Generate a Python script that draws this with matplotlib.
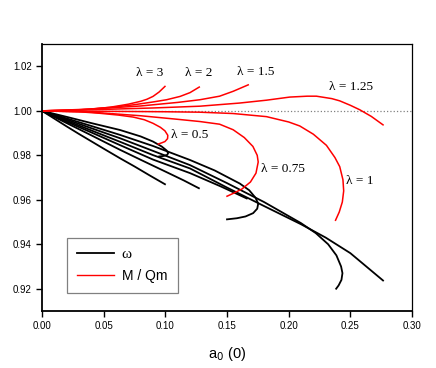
import numpy as np
import matplotlib
matplotlib.use('Agg')
import matplotlib.pyplot as plt
from matplotlib.lines import Line2D

# omega vs a0(0), one branch per lambda
w_a = {
    '3':    [0.0, 0.01, 0.02, 0.03, 0.04, 0.05, 0.0632, 0.075, 0.0875, 0.0997],
    '2':    [0.0, 0.02, 0.04, 0.0632, 0.08, 0.10, 0.115, 0.1272],
    '1.5':  [0.0, 0.02, 0.04, 0.0632, 0.09, 0.12, 0.145, 0.166],
    '1.25': [0.0, 0.02, 0.04, 0.0632, 0.09, 0.12, 0.15, 0.18, 0.21, 0.23, 0.25, 0.2765],
    '1':    [0.0, 0.02, 0.04, 0.0632, 0.09, 0.12, 0.15, 0.18, 0.21, 0.222, 0.232, 0.2387,
             0.2425, 0.2436, 0.2428, 0.2405, 0.2385],
    '0.75': [0.0, 0.02, 0.04, 0.0632, 0.09, 0.12, 0.14, 0.1604, 0.168, 0.173, 0.1753, 0.1745,
             0.1712, 0.165, 0.158, 0.150],
    '0.5':  [0.0, 0.02, 0.04, 0.0632, 0.08, 0.09, 0.097, 0.101, 0.1023, 0.1015, 0.0985, 0.095],
}
w_y = {
    '3':    [1.0, 0.9965, 0.9930, 0.9896, 0.9863, 0.9830, 0.9787, 0.9750, 0.9709, 0.9670],
    '2':    [1.0, 0.9945, 0.9890, 0.9825, 0.9780, 0.9727, 0.9687, 0.9652],
    '1.5':  [1.0, 0.9951, 0.9903, 0.9846, 0.9781, 0.9720, 0.9660, 0.9606],
    '1.25': [1.0, 0.9956, 0.9912, 0.9861, 0.9801, 0.9741, 0.9655, 0.9572, 0.9490, 0.9430,
             0.9360, 0.9237],
    '1':    [1.0, 0.9961, 0.9922, 0.9877, 0.9820, 0.9756, 0.9675, 0.9590, 0.9495, 0.9450,
             0.9400, 0.9350, 0.9300, 0.9270, 0.9240, 0.9215, 0.9200],
    '0.75': [1.0, 0.9966, 0.9932, 0.9892, 0.9842, 0.9779, 0.9732, 0.9673, 0.9643, 0.9610,
             0.9583, 0.9560, 0.9540, 0.9525, 0.9517, 0.9512],
    '0.5':  [1.0, 0.9973, 0.9945, 0.9914, 0.9885, 0.9862, 0.9840, 0.9822, 0.9810, 0.9802,
             0.9797, 0.9795],
}

# M / Qm vs a0(0)
m_a = {
    '3':    [0.0, 0.02, 0.04, 0.055, 0.07, 0.08, 0.085, 0.09, 0.095, 0.0997],
    '2':    [0.0, 0.03, 0.06, 0.074, 0.09, 0.101, 0.112, 0.12, 0.1275],
    '1.5':  [0.0, 0.04, 0.08, 0.11, 0.128, 0.144, 0.155, 0.1672],
    '1.25': [0.0, 0.04, 0.09, 0.128, 0.16, 0.182, 0.2009, 0.215, 0.2225, 0.235, 0.2414,
             0.25, 0.2576, 0.267, 0.2765],
    '1':    [0.0, 0.05, 0.10, 0.128, 0.155, 0.182, 0.20, 0.209, 0.22, 0.2306, 0.2375,
             0.2414, 0.244, 0.2446, 0.2435, 0.241, 0.238],
    '0.75': [0.0, 0.04, 0.08, 0.11, 0.128, 0.144, 0.155, 0.164, 0.171, 0.1745, 0.1753,
             0.1735, 0.169, 0.162, 0.1555, 0.150],
    '0.5':  [0.0, 0.03, 0.047, 0.062, 0.074, 0.083, 0.090, 0.096, 0.0997, 0.102, 0.1018,
             0.0997, 0.097, 0.0943],
}
m_y = {
    '3':    [1.0, 1.0002, 1.0008, 1.0016, 1.0030, 1.0043, 1.0052, 1.0065, 1.0085, 1.0110],
    '2':    [1.0, 1.0004, 1.0018, 1.0027, 1.0040, 1.0050, 1.0065, 1.0082, 1.0107],
    '1.5':  [1.0, 1.0008, 1.0022, 1.0038, 1.0050, 1.0066, 1.0088, 1.0117],
    '1.25': [1.0, 1.0005, 1.0013, 1.0021, 1.0035, 1.0048, 1.0062, 1.0066, 1.0066, 1.0055,
             1.0045, 1.0025, 1.0005, 0.9975, 0.9937],
    '1':    [1.0, 0.9998, 0.9996, 0.9994, 0.9988, 0.9974, 0.9950, 0.9932, 0.9895, 0.9845,
             0.9790, 0.9749, 0.9690, 0.9640, 0.9590, 0.9545, 0.9508],
    '0.75': [1.0, 0.9994, 0.9978, 0.9962, 0.9952, 0.9940, 0.9915, 0.9880, 0.9840, 0.9800,
             0.9770, 0.9720, 0.9680, 0.9648, 0.9630, 0.9616],
    '0.5':  [1.0, 0.9996, 0.9989, 0.9981, 0.9972, 0.9960, 0.9944, 0.9926, 0.9910, 0.9890,
             0.9875, 0.9862, 0.9856, 0.9851],
}

lam_labels = ['3', '2', '1.5', '1.25', '0.5', '0.75', '1']
lab_pos = [(0.0875, 1.0172), (0.1268, 1.0172), (0.1734, 1.0176), (0.2503, 1.0108),
           (0.1199, 0.9892), (0.1952, 0.9738), (0.2576, 0.9684)]

fig = plt.figure(figsize=(4.36, 3.68), dpi=100)
ax = fig.add_axes([0.0963, 0.155, 0.8487, 0.725])

ax.plot([0, 0.30], [1, 1], color='grey', ls=':', lw=0.9)
for k in w_a:
    ax.plot(w_a[k], w_y[k], color='black', lw=1.3)
for k in m_a:
    ax.plot(m_a[k], m_y[k], color='red', lw=1.1)

for lab, (xx, yy) in zip(lam_labels, lab_pos):
    ax.text(xx, yy, '\u03bb = ' + lab, family='Liberation Serif', fontsize=9.5,
            ha='center', va='center')

ax.set_xlim(0, 0.30)
ax.set_ylim(0.91, 1.03)
xt = np.arange(0, 0.31, 0.05)
ax.set_xticks(xt)
ax.set_xticklabels(['%.2f' % v for v in xt])
ax.set_yticks([0.92, 0.94, 0.96, 0.98, 1.00, 1.02])
ax.set_yticklabels(['0.92', '0.94', '0.96', '0.98', '1.00', '1.02'])
ax.tick_params(direction='out', length=4, width=1, labelsize=7, top=False, right=False)
for lbl in ax.get_xticklabels() + ax.get_yticklabels():
    lbl.set_family('Liberation Sans')
ax.spines['left'].set_linewidth(1.3)
ax.spines['bottom'].set_linewidth(1.3)
ax.spines['top'].set_linewidth(0.9)
ax.spines['right'].set_linewidth(0.9)
ax.set_xlabel('a$_0$ (0)', family='Liberation Sans', fontsize=10.5, labelpad=10)

h = [Line2D([], [], color='black', lw=1.3), Line2D([], [], color='red', lw=1.0)]
leg = ax.legend(h, ['\u03c9', 'M / Qm'], loc='lower left', bbox_to_anchor=(0.0676, 0.067),
                borderaxespad=0, fancybox=False, edgecolor='grey', framealpha=1,
                handlelength=2.6, handletextpad=0.6,
                prop={'family': 'Liberation Sans', 'size': 10}, borderpad=0.75, labelspacing=0.55)
leg.get_frame().set_linewidth(0.9)
leg.get_texts()[0].set_family('Liberation Serif')
leg.get_texts()[0].set_fontsize(11)

plt.savefig('out.png', dpi=100)
